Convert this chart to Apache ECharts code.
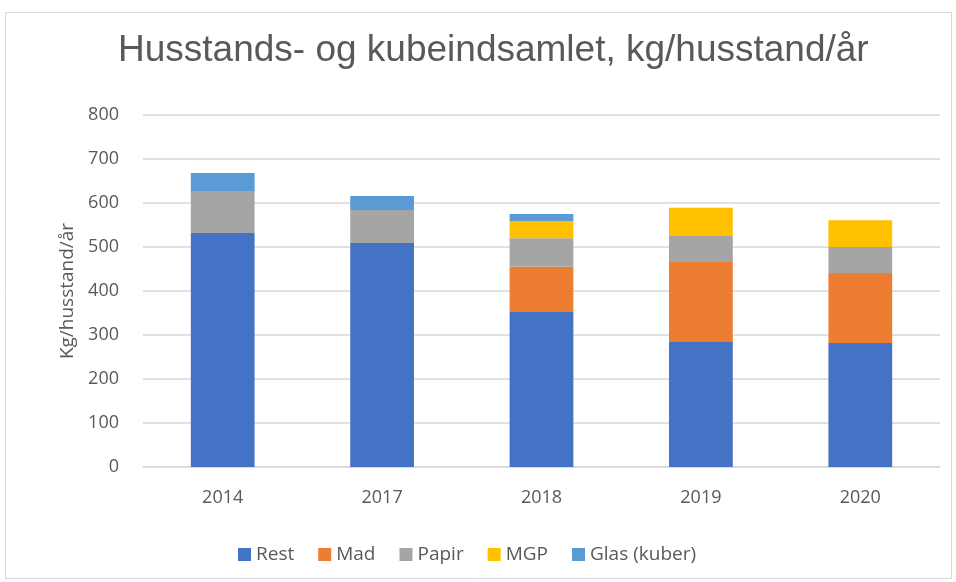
<!DOCTYPE html>
<html><head><meta charset="utf-8">
<script src="https://cdn.jsdelivr.net/npm/echarts@6/dist/echarts.min.js"></script>
<style>html,body{margin:0;padding:0;background:#fff}#c{width:956px;height:582px}</style>
</head><body><div id="c"></div>
<script>
const categories = ['2014','2017','2018','2019','2020'];
const rest  = [532, 509, 352, 286, 282];
const mad   = [0, 0, 103, 180, 159];
const papir = [95, 75, 65, 59, 59];
const mgp   = [0, 0, 39, 64, 61];
const glas  = [41, 32, 16, 0, 0];
const seriesNames = ['Rest','Mad','Papir','MGP','Glas (kuber)'];
const colors = ['#4472C4','#ED7D31','#A5A5A5','#FFC000','#5B9BD5'];

const font = '"Open Sans", "Noto Sans", sans-serif';
const chart = echarts.init(document.getElementById('c'));
const data = [rest, mad, papir, mgp, glas];
chart.setOption({
  animation: false,
  color: colors,
  graphic: [{type:'rect', shape:{x:5.5,y:12.5,width:946,height:566}, style:{fill:'none', stroke:'#d9d9d9', lineWidth:1}, silent:true}],
  title: {text:'Husstands- og kubeindsamlet, kg/husstand/år', left:113, top:27,
    textStyle:{fontFamily:'"Liberation Sans", sans-serif', fontWeight:'normal', fontSize:37, color:'#595959'}},
  legend: {bottom:13, left:233, itemWidth:13, itemHeight:13, itemGap:24, icon:'rect',
    textStyle:{fontFamily:font, fontSize:19, color:'#595959'}, data: seriesNames},
  grid: {left:143, right:16, top:115, bottom:115},
  xAxis: {type:'category', data:categories,
    axisLine:{lineStyle:{color:'#d9d9d9', width:1.5}}, axisTick:{show:false},
    axisLabel:{fontFamily:font, fontSize:18, color:'#595959', margin:22}},
  yAxis: {type:'value', min:0, max:800, interval:100,
    name:'Kg/husstand/år', nameLocation:'middle', nameGap:60, nameRotate:90,
    nameTextStyle:{fontFamily:font, fontSize:19, color:'#595959'},
    axisLine:{show:false}, axisTick:{show:false},
    axisLabel:{fontFamily:font, fontSize:18, color:'#595959', margin:24},
    splitLine:{lineStyle:{color:'#d9d9d9', width:1.5}}},
  series: seriesNames.map((n,i)=>({name:n, type:'bar', stack:'a', barWidth:'40%', data:data[i]}))
});
</script></body></html>
